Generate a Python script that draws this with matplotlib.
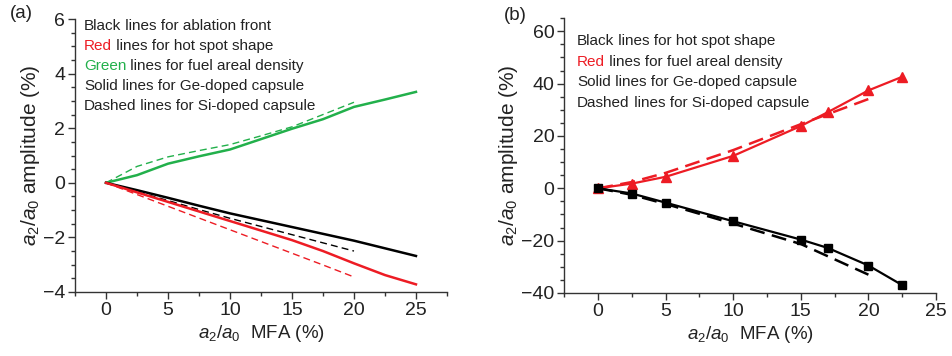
import matplotlib
matplotlib.use("Agg")
import matplotlib.pyplot as plt
from matplotlib.ticker import MultipleLocator

plt.rcParams['font.family'] = ['Liberation Sans', 'DejaVu Sans']
plt.rcParams['mathtext.fontset'] = 'custom'
plt.rcParams['mathtext.rm'] = 'Liberation Sans'
plt.rcParams['mathtext.it'] = 'Liberation Sans:italic'

RED = '#ed1c24'
GREEN = '#22b04b'
AX = '#333333'
TXT = '#222222'

# panel (a)
a_x_ge = [0, 2.5, 5, 7.5, 10, 12.5, 15, 17.5, 20, 22.5, 25]
a_black_ge = [0, -0.27, -0.55, -0.84, -1.12, -1.37, -1.62, -1.87, -2.12, -2.40, -2.68]
a_red_ge = [0, -0.35, -0.70, -1.05, -1.40, -1.75, -2.10, -2.50, -2.95, -3.38, -3.72]
a_green_ge = [0, 0.28, 0.70, 0.97, 1.22, 1.60, 1.98, 2.33, 2.78, 3.05, 3.33]

a_x_si = [0, 2.5, 5, 7.5, 10, 12.5, 15, 17.5, 20]
a_black_si = [0, -0.33, -0.65, -0.98, -1.30, -1.60, -1.90, -2.20, -2.50]
a_red_si = [0, -0.43, -0.86, -1.29, -1.72, -2.15, -2.58, -3.01, -3.45]
a_green_si = [0, 0.60, 0.95, 1.18, 1.40, 1.72, 2.05, 2.50, 2.95]

# panel (b)
b_x_ge = [0, 2.5, 5, 10, 15, 17, 20, 22.5]
b_black_ge = [0, -2.0, -5.5, -12.6, -19.6, -22.8, -29.5, -37.0]
b_red_ge = [0, 1.8, 4.4, 12.4, 23.8, 29.1, 37.4, 42.6]

b_x_si = [0, 2.5, 5, 10, 15, 20]
b_black_si = [0, -2.5, -6.0, -13.5, -21.3, -33.0]
b_red_si = [0, 2.4, 5.9, 14.6, 24.5, 34.1]

fig = plt.figure(figsize=(9.52, 3.56), dpi=100)
ax1 = fig.add_axes([0.0788, 0.1798, 0.3907, 0.7668])
ax2 = fig.add_axes([0.5928, 0.177, 0.3904, 0.772])


def style(ax):
    for s in ['top', 'right']:
        ax.spines[s].set_visible(False)
    for s in ['left', 'bottom']:
        ax.spines[s].set_color(AX)
        ax.spines[s].set_linewidth(1.0)
    ax.tick_params(which='both', direction='out', colors=AX, labelcolor=TXT,
                   labelsize=14, width=1.0, pad=2)
    ax.tick_params(which='major', length=5)
    ax.tick_params(which='minor', length=3)
    ax.set_xlabel(r'$a_2/a_0$  MFA (%)', fontsize=13.5, color=TXT, labelpad=3)
    ax.set_ylabel(r'$a_2/a_0$ amplitude (%)', fontsize=15, color=TXT, labelpad=1)


style(ax1)
ax1.plot(a_x_ge, a_green_ge, color=GREEN, lw=1.8)
ax1.plot(a_x_si, a_green_si, color=GREEN, lw=1.0, dashes=(5, 3))
ax1.plot(a_x_ge, a_black_ge, color='black', lw=1.8)
ax1.plot(a_x_si, a_black_si, color='black', lw=1.0, dashes=(5, 3))
ax1.plot(a_x_ge, a_red_ge, color=RED, lw=1.8)
ax1.plot(a_x_si, a_red_si, color=RED, lw=1.0, dashes=(5, 3))
ax1.set_xlim(-2.5, 27.5)
ax1.set_ylim(-4, 6)
ax1.xaxis.set_major_locator(MultipleLocator(5))
ax1.xaxis.set_minor_locator(MultipleLocator(2.5))
ax1.yaxis.set_minor_locator(MultipleLocator(0.5))
ax1.set_yticks([-4, -2, 0, 2, 4, 6])
ax1.set_yticklabels(['\u22124', '\u22122', '0', '2', '4', '6'])

style(ax2)
ax2.plot(b_x_si, b_red_si, color=RED, lw=1.8, dashes=(6, 3))
ax2.plot(b_x_ge, b_red_ge, color=RED, lw=1.6, marker='^', ms=7)
ax2.plot(b_x_si, b_black_si, color='black', lw=1.8, dashes=(6, 3))
ax2.plot(b_x_ge, b_black_ge, color='black', lw=1.6, marker='s', ms=6)
ax2.set_xlim(-2.5, 25)
ax2.set_ylim(-40, 65)
ax2.xaxis.set_major_locator(MultipleLocator(5))
ax2.xaxis.set_minor_locator(MultipleLocator(2.5))
ax2.yaxis.set_minor_locator(MultipleLocator(5))
ax2.set_yticks([-40, -20, 0, 20, 40, 60])
ax2.set_yticklabels(['\u221240', '\u221220', '0', '20', '40', '60'])

# colored-word notes
fs = 11
lines_a = [
    ('Black', TXT, ' lines for ablation front'),
    ('Red', RED, ' lines for hot spot shape'),
    ('Green', GREEN, ' lines for fuel areal density'),
    ('Solid', TXT, ' lines for Ge-doped capsule'),
    ('Dashed', TXT, ' lines for Si-doped capsule'),
]
lines_b = [
    ('Black', TXT, ' lines for hot spot shape'),
    ('Red', RED, ' lines for fuel areal density'),
    ('Solid', TXT, ' lines for Ge-doped capsule'),
    ('Dashed', TXT, ' lines for Si-doped capsule'),
]


def notes(rows, x0, y0, dy):
    for i, (w, c, rest) in enumerate(rows):
        y = 1 - (y0 + dy * i) / 356
        t = fig.text(x0 / 952, y, w, color=c, fontsize=fs, va='center')
        fig.canvas.draw()
        bb = t.get_window_extent()
        fig.text(bb.x1 / 952, y, rest, color=TXT, fontsize=fs, va='center')


notes(lines_a, 84, 26, 20)
notes(lines_b, 577, 41, 20.7)

fig.text(21 / 952, 1 - 14 / 356, '(a)', fontsize=13.5, color=TXT, ha='center', va='center')
fig.text(515 / 952, 1 - 15 / 356, '(b)', fontsize=13.5, color=TXT, ha='center', va='center')

fig.savefig('out.png', dpi=100)
